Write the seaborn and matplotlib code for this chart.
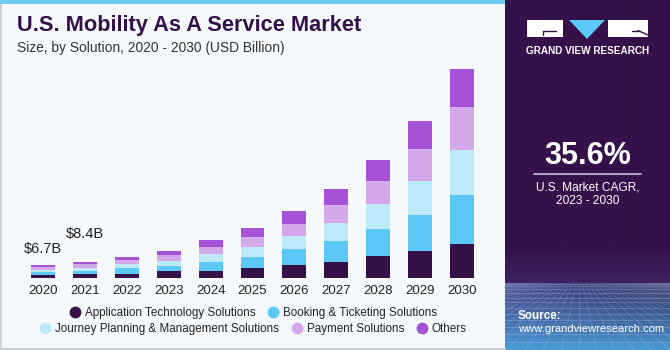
import numpy as np
import pandas as pd
import matplotlib
matplotlib.use("Agg")
import matplotlib.pyplot as plt
import seaborn as sns
from matplotlib.patches import Rectangle, Polygon
from matplotlib.lines import Line2D
from matplotlib.colors import to_rgb

# ---------------- data ----------------
years = ["2020", "2021", "2022", "2023", "2024", "2025", "2026", "2027", "2028", "2029", "2030"]
app_tech = [1.7, 1.9, 2.4, 3.6, 4.0, 5.1, 6.7, 8.7, 11.6, 14.6, 18.3]
booking = [1.25, 1.8, 3.0, 3.0, 4.8, 6.1, 8.6, 10.9, 14.7, 19.1, 26.0]
journey = [1.25, 1.4, 1.9, 2.7, 4.1, 5.5, 7.2, 10.0, 13.5, 18.3, 24.4]
payment = [1.6, 2.2, 2.1, 3.2, 3.7, 5.2, 6.6, 9.5, 12.3, 17.0, 22.7]
others = [0.9, 1.1, 1.8, 2.1, 3.5, 4.8, 6.6, 8.6, 11.2, 14.8, 20.3]
series_names = ["Application Technology Solutions", "Booking & Ticketing Solutions",
                "Journey Planning & Management Solutions", "Payment Solutions", "Others"]
series_colors = ["#35114a", "#5bc8f5", "#bde9f9", "#d4a9ea", "#a552d6"]
value_labels = {"2020": "$6.7B", "2021": "$8.4B"}
label_offsets = {"2020": 7, "2021": 15}  # points above the bar top

series = [app_tech, booking, journey, payment, others]

W, H = 670, 350
BG = "#f5f9fc"
sns.set_theme(style="white")
plt.rcParams["font.family"] = ["Liberation Sans", "DejaVu Sans"]

fig = plt.figure(figsize=(W / 100, H / 100), dpi=100)
fig.patch.set_facecolor(BG)


def fx(x):
    return x / W


def fy(y):
    return 1 - y / H


# ---------------- bars ----------------
ax = fig.add_axes([fx(22), fy(278), fx(483) - fx(22), fy(60) - fy(278)])
ax.set_facecolor(BG)
df = pd.DataFrame({"year": years})
cum = np.zeros(len(years))
cums = []
for s in series:
    cum = cum + np.array(s)
    cums.append(cum.copy())
df_tot = df.copy()
for i in range(len(series) - 1, -1, -1):
    df_tot["v"] = cums[i]
    sns.barplot(data=df_tot, x="year", y="v", color=series_colors[i], saturation=1,
                width=0.57, ax=ax, linewidth=0, order=years)

ax.set_xlim(-0.5, len(years) - 0.5)
ax.set_ylim(0, 116.6)
for sp in ax.spines.values():
    sp.set_visible(False)
ax.set_yticks([])
ax.set_xlabel("")
ax.set_ylabel("")
ax.tick_params(axis="x", length=0, pad=5, labelsize=9.5, labelcolor="#222222")

totals = cums[-1]
for i, y in enumerate(years):
    if y in value_labels:
        ax.annotate(value_labels[y], xy=(i, totals[i]), xytext=(0, label_offsets[y]),
                    textcoords="offset points", ha="center", va="bottom",
                    fontsize=10.5, color="#222222")

# ---------------- legend ----------------
handles = [Line2D([], [], marker="o", linestyle="none", markersize=7.5,
                  markerfacecolor=c, markeredgecolor=c) for c in series_colors]
common = dict(frameon=False, fontsize=8.4, handletextpad=0.35, columnspacing=1.0,
              labelcolor="#222222", borderpad=0, handlelength=1.0)
leg1 = fig.legend(handles[:2], series_names[:2], ncol=2, loc="center",
                  bbox_to_anchor=(fx(253), fy(313)), **common)
leg2 = fig.legend(handles[2:], series_names[2:], ncol=3, loc="center",
                  bbox_to_anchor=(fx(253), fy(329)), **common)

# ---------------- titles ----------------
fig.text(fx(17), fy(25), "U.S. Mobility As A Service Market", fontsize=15.7, fontweight="bold",
         color="#35114a", va="center", ha="left")
fig.text(fx(17), fy(48), "Size, by Solution, 2020 - 2030 (USD Billion)", fontsize=9.9,
         color="#333333", va="center", ha="left")

# frame decorations
fig.patches.append(Rectangle((0, fy(4)), fx(505), 4 / H, transform=fig.transFigure,
                             facecolor="#6ccdf0", edgecolor="none", zorder=5))
fig.add_artist(Line2D([fx(1), fx(1)], [fy(349), fy(4)], color="#cfd3d6", lw=1.5))
fig.add_artist(Line2D([fx(0), fx(505)], [fy(348.5), fy(348.5)], color="#cfd3d6", lw=1.5))

# ---------------- right panel ----------------
PX0 = 505
pw = W - PX0
pax = fig.add_axes([fx(PX0), 0, fx(W) - fx(PX0), 1])
yy = np.linspace(0, H, H)[:, None]
xx = np.linspace(0, 1, pw)[None, :]
purple = np.array(to_rgb("#35114a"))
purple2 = np.array(to_rgb("#3c2460"))
horizon_c = np.array(to_rgb("#4a4d90"))
bottom_c = np.array(to_rgb("#4a9bd6"))
t1 = np.clip((yy - 245) / 38, 0, 1)
t2 = np.clip((yy - 283) / 67, 0, 1) ** 1.2
base = purple * (1 - t1[..., None]) + purple2 * t1[..., None]
low = horizon_c * (1 - t2[..., None]) + bottom_c * t2[..., None]
low = low * (1 - 0.25 * xx[..., None] * (1 - t2[..., None]))
mask = (yy >= 283)[..., None]
img = np.where(mask, np.broadcast_to(low, (H, pw, 3)), np.broadcast_to(base, (H, pw, 3)))
pax.imshow(img, aspect="auto", extent=[0, pw, H, 0], interpolation="bilinear")
pax.set_xlim(0, pw)
pax.set_ylim(H, 0)
pax.axis("off")

# perspective grid
gcol = (0.85, 0.9, 1.0)
hy = 283
for k in range(1, 14):
    y = hy + (H - hy) * (k / 13) ** 1.6
    pax.plot([0, pw], [y, y], color=gcol, alpha=0.22, lw=0.6)
vx = pw * 0.45
for k in range(-30, 31):
    xb = vx + k * 18
    pax.plot([vx + k * 3, xb], [hy, H], color=gcol, alpha=0.18, lw=0.6)
pax.set_xlim(0, pw)
pax.set_ylim(H, 0)


# logo
def P(x):
    return x - PX0


pax.add_patch(Rectangle((P(527), 20), 36, 17, facecolor="white", edgecolor="none"))
pax.add_patch(Rectangle((P(608), 20), 40, 17, facecolor="white", edgecolor="none"))
pax.add_patch(Polygon([(P(569), 20), (P(605), 20), (P(587), 39)], closed=True,
                      facecolor="#5bc8f5", edgecolor="none"))
pax.plot([P(543), P(556)], [31, 31], color="#35114a", lw=1.0)
pax.plot([P(543), P(543)], [31, 35], color="#35114a", lw=1.0)
pax.plot([P(632), P(638)], [30.5, 30.5], color="#35114a", lw=1.0)
pax.plot([P(638), P(648)], [30.5, 35], color="#35114a", lw=1.0)
pax.text(P(587.5), 51, "GRAND VIEW RESEARCH", color="white", fontsize=7.2, fontweight="bold",
         ha="center", va="center")

pax.text(P(587.5), 156, "35.6%", color="white", fontsize=22, fontweight="bold",
         ha="center", va="center")
pax.plot([P(534), P(641)], [173.5, 173.5], color="#cbbfd8", lw=1.2)
pax.text(P(587.5), 187, "U.S. Market CAGR,", color="white", fontsize=8.6, ha="center", va="center")
pax.text(P(587.5), 201, "2023 - 2030", color="white", fontsize=8.6, ha="center", va="center")
pax.text(P(518), 316, "Source:", color="white", fontsize=8.4, fontweight="bold", ha="left", va="center")
pax.text(P(518), 329.5, "www.grandviewresearch.com", color="white", fontsize=8.1, ha="left", va="center")

fig.savefig("out.png", dpi=100, facecolor=fig.get_facecolor())
